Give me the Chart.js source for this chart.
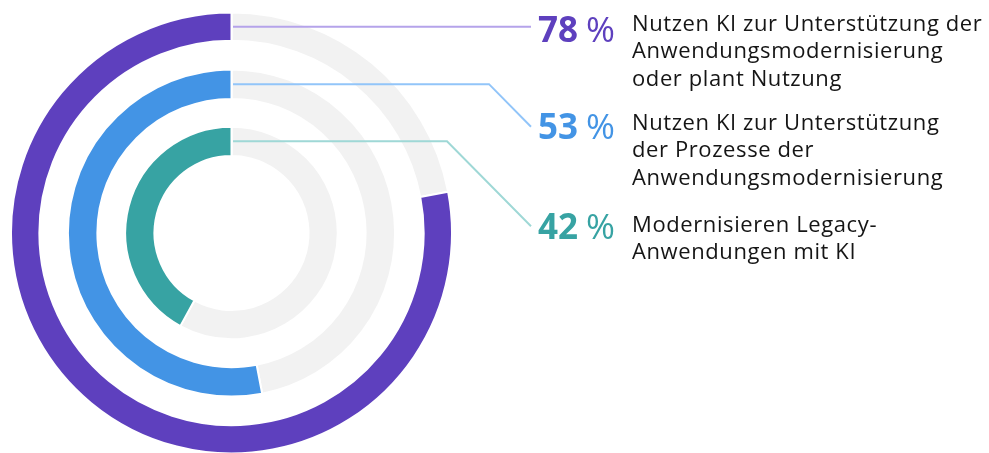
<!DOCTYPE html>
<html><head><meta charset="utf-8">
<script src="https://cdn.jsdelivr.net/npm/chart.js@4.4.1/dist/chart.umd.min.js"></script>
<style>html,body{margin:0;padding:0;background:#fff}#wrap{position:relative;width:989px;height:453px}</style>
</head><body><div id="wrap"><canvas id="c" width="989" height="453"></canvas></div>
<script>
const categories = [
  ['Nutzen KI zur Unterstützung der', 'Anwendungsmodernisierung', 'oder plant Nutzung'],
  ['Nutzen KI zur Unterstützung', 'der Prozesse der', 'Anwendungsmodernisierung'],
  ['Modernisieren Legacy-', 'Anwendungen mit KI']
];
const values = [78, 53, 42];
const valueLabels = ['78', '53', '42'];
const ringColors = ['#5e40be', '#4394e5', '#37a3a3'];
const leaderColors = ['#b5a3ea', '#92c5f9', '#9fd8d6'];
const trackColor = '#f2f2f2';

// layout (pixels)
const ringWeights = [28.5, 29.6, 29.4];
const gapWeights = [28.7, 28.0];
const numX = 538, textX = 632, lineHeight = 27.3;
const numBaselines = [41.7, 139.3, 238.7];
const textBaselines = [31, 130, 232];
const leaderKnees = [null, 489, 447];
const leaderEndX = 531;

const datasets = [];
values.forEach((v, i) => {
  datasets.push({
    data: [100 - v, v],
    backgroundColor: [trackColor, ringColors[i]],
    borderColor: '#ffffff',
    borderWidth: 2,
    weight: ringWeights[i],
    hoverOffset: 0,
    offset: 0
  });
  if (i < gapWeights.length) {
    datasets.push({
      data: [1],
      backgroundColor: ['rgba(0,0,0,0)'],
      borderWidth: 0,
      weight: gapWeights[i],
      hoverOffset: 0,
      spacer: true
    });
  }
});

const labelsPlugin = {
  id: 'labelsPlugin',
  afterDatasetsDraw(chart) {
    const ctx = chart.ctx;
    let ringIdx = 0;
    chart.data.datasets.forEach((ds, di) => {
      if (ds.spacer) return;
      const i = ringIdx++;
      const arc = chart.getDatasetMeta(di).data[0];
      const cx = arc.x, cy = arc.y;
      const midR = (arc.outerRadius + arc.innerRadius) / 2;
      const ly = cy - midR;
      const endY = i === 0 ? ly : numBaselines[i] - 12.5;
      ctx.save();
      ctx.strokeStyle = leaderColors[i];
      ctx.lineWidth = 2;
      ctx.beginPath();
      ctx.moveTo(cx + 1.5, ly);
      if (leaderKnees[i] !== null) {
        ctx.lineTo(leaderKnees[i], ly);
        ctx.lineTo(leaderEndX, endY);
      } else {
        ctx.lineTo(leaderEndX, ly);
      }
      ctx.stroke();
      // number
      ctx.fillStyle = ringColors[i];
      ctx.textBaseline = 'alphabetic';
      ctx.textAlign = 'left';
      ctx.font = 'bold 35px "Open Sans", sans-serif';
      ctx.letterSpacing = '0px';
      ctx.fillText(valueLabels[i], numX, numBaselines[i]);
      const w = ctx.measureText(valueLabels[i]).width;
      ctx.font = '35px "Open Sans", sans-serif';
      ctx.fillText('%', numX + w + 8, numBaselines[i]);
      // label
      ctx.fillStyle = '#151515';
      ctx.font = '22px "Open Sans", sans-serif';
      ctx.letterSpacing = '0.6px';
      categories[i].forEach((t, k) => {
        ctx.fillText(t, textX, textBaselines[i] + k * lineHeight);
      });
      ctx.restore();
    });
  }
};

new Chart(document.getElementById('c'), {
  type: 'doughnut',
  data: { datasets },
  options: {
    responsive: false,
    animation: false,
    events: [],
    radius: 220.5,
    cutout: 76.3,
    layout: { padding: { left: 12, top: 13, right: 538, bottom: 0 } },
    plugins: { legend: { display: false }, tooltip: { enabled: false } }
  },
  plugins: [labelsPlugin]
});
</script></body></html>
